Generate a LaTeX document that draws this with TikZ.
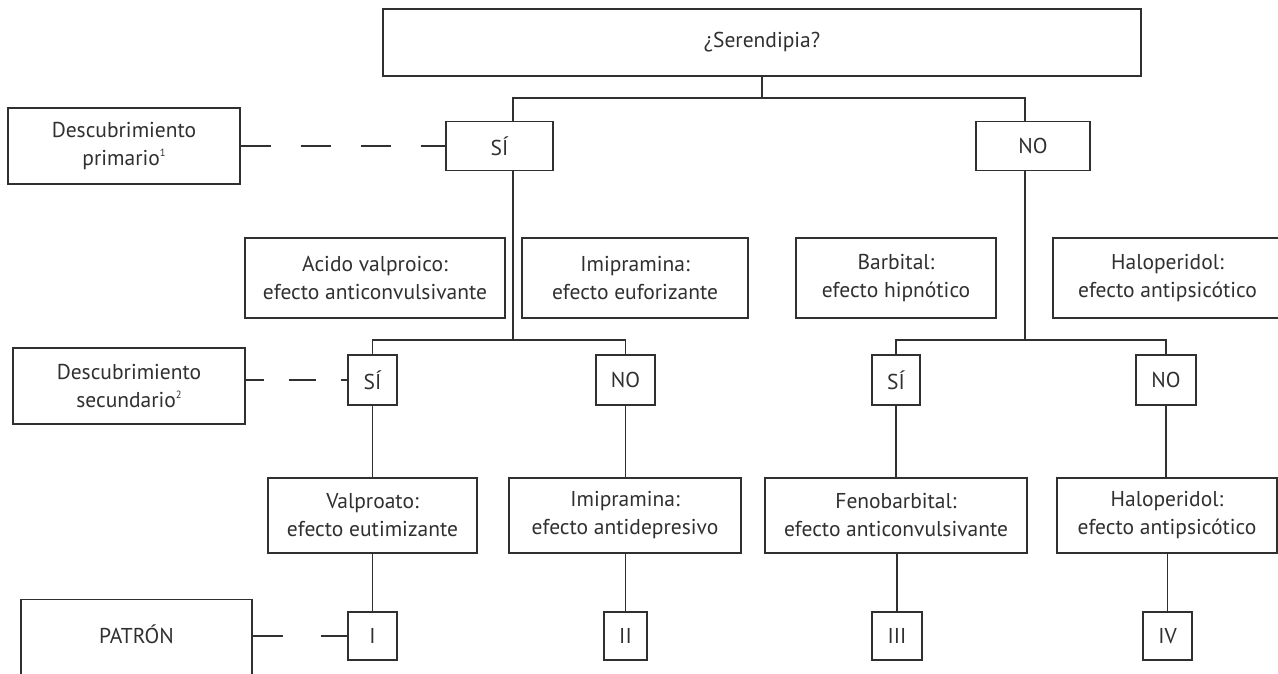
\documentclass[tikz,border=0pt]{standalone}
\usepackage{fontspec}
\setmainfont{PT Sans}
\definecolor{ink}{HTML}{303030}
\newcommand{\supnum}[1]{\raisebox{0.42em}{\fontsize{10.5}{11}\selectfont #1}}
\begin{document}
\begin{tikzpicture}[x=1pt,y=-1pt,
  box/.style={draw=ink, line width=1.1pt, text=ink, align=center, inner sep=0pt,
              font=\fontsize{21.5}{28}\selectfont},
  txt/.style={text=ink, align=center, inner sep=0pt, font=\fontsize{21.5}{28}\selectfont},
  wire/.style={draw=ink, line width=1.1pt},
  dashA/.style={wire, dash pattern=on 30pt off 30pt},
  dashB/.style={wire, dash pattern=on 27pt off 25pt, dash phase=9pt},
  dashC/.style={wire, dash pattern=on 30pt off 38pt}]
\useasboundingbox (0,0) rectangle (1278,673);
\clip (0,0) rectangle (1278,673);
\fill[white] (0,0) rectangle (1278,673);
% top
\node[box, minimum width=758pt, minimum height=67pt] (top) at (762,42.5) {¿Serendipia?};
% level 1
\node[box, minimum width=232pt, minimum height=76pt] (dp1) at (124,146) {Descubrimiento\\primario\supnum{1}};
\node[box, minimum width=107pt, minimum height=49pt] (si1) at (499.5,146) {SÍ};
\node[box, minimum width=114pt, minimum height=49pt] (no1) at (1033,146) {NO};
% middle row
\node[box, minimum width=260pt, minimum height=80pt] (acido) at (375,278) {Acido valproico:\\efecto anticonvulsivante};
\node[box, minimum width=226pt, minimum height=80pt] (imi1) at (635,278) {Imipramina:\\efecto euforizante};
\node[box, minimum width=200pt, minimum height=80pt] (barb) at (896,278) {Barbital:\\efecto hipnótico};
\node[box, minimum width=229pt, minimum height=80pt] (halo1) at (1167.5,278) {Haloperidol:\\efecto antipsicótico};
% level 2
\node[box, minimum width=232pt, minimum height=76pt] (dp2) at (129,386) {Descubrimiento\\secundario\supnum{2}};
\node[box, minimum width=49pt, minimum height=50pt] (si2) at (372.5,380) {SÍ};
\node[box, minimum width=59pt, minimum height=50pt] (no2) at (625.5,380) {NO};
\node[box, minimum width=48pt, minimum height=50pt] (si3) at (896,380) {SÍ};
\node[box, minimum width=60pt, minimum height=50pt] (no3) at (1166,380) {NO};
% results
\node[box, minimum width=209pt, minimum height=75pt] (val) at (372.5,515.5) {Valproato:\\efecto eutimizante};
\node[box, minimum width=232pt, minimum height=75pt] (imi2) at (625,515.5) {Imipramina:\\efecto antidepresivo};
\node[box, minimum width=262pt, minimum height=75pt] (feno) at (896,515.5) {Fenobarbital:\\efecto anticonvulsivante};
\node[box, minimum width=220pt, minimum height=75pt] (halo2) at (1167,515.5) {Haloperidol:\\efecto antipsicótico};
% patterns
\node[box, minimum width=231pt, minimum height=130pt, anchor=north] (pat) at (136.5,599) {};
\node[txt] (pattxt) at (136.5,634) {PATRÓN};
\node[box, minimum width=49pt, minimum height=48pt] (r1) at (372.5,636) {I};
\node[box, minimum width=43pt, minimum height=48pt] (r2) at (625.5,636) {II};
\node[box, minimum width=50pt, minimum height=48pt] (r3) at (897,636) {III};
\node[box, minimum width=49pt, minimum height=48pt] (r4) at (1167.5,636) {IV};
% junctions
\coordinate (j1) at (762,98);
\coordinate (j2) at (513,340);
\coordinate (j3) at (1025,340);
% connectors
\draw[wire] (top.south) -- (j1);
\draw[wire] ([xshift=13.5pt]si1.north) |- (j1) -| ([xshift=-8pt]no1.north);
\draw[wire] ([xshift=13.5pt]si1.south) -- (j2);
\draw[wire] ([xshift=-8pt]no1.south) -- (j3);
\draw[wire] (si2.north) |- (j2) -| (no2.north);
\draw[wire] (si3.north) |- (j3) -| (no3.north);
\draw[wire] (si2.south) -- (si2.south |- val.north);
\draw[wire] (no2.south) -- (no2.south |- imi2.north);
\draw[wire] (si3.south) -- (si3.south |- feno.north);
\draw[wire] (no3.south) -- (no3.south |- halo2.north);
\draw[wire] (r1.north |- val.south) -- (r1.north);
\draw[wire] (r2.north |- imi2.south) -- (r2.north);
\draw[wire] (r3.north |- feno.south) -- (r3.north);
\draw[wire] (r4.north |- halo2.south) -- (r4.north);
% dashed links
\draw[dashA] (dp1.east) -- (si1.west);
\draw[dashB] (dp2.east |- si2.west) -- (si2.west);
\draw[dashC] (pat.east |- r1.west) -- (r1.west);
\end{tikzpicture}
\end{document}
